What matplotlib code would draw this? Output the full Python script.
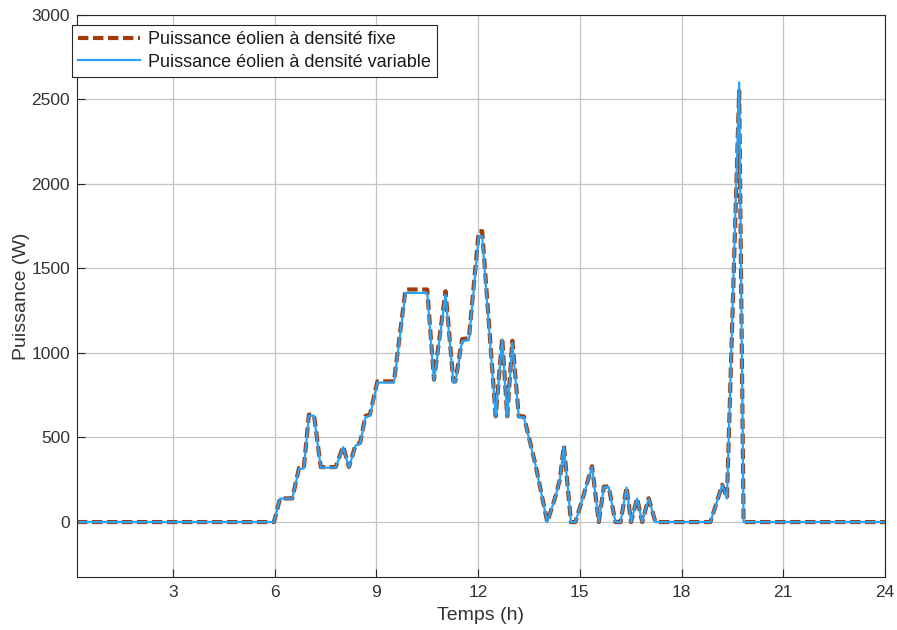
import matplotlib
matplotlib.use("Agg")
import matplotlib.pyplot as plt

# time (h) and power (W)
temps = [0.17, 5.98, 6.16, 6.52, 6.72, 6.86, 7.01, 7.16, 7.36, 7.80, 8.02, 8.19,
         8.39, 8.52, 8.68, 8.81, 9.03, 9.52, 9.86, 10.50, 10.70, 11.04, 11.27,
         11.33, 11.53, 11.73, 12.02, 12.12, 12.52, 12.71, 12.86, 13.01, 13.20,
         13.35, 13.70, 14.04, 14.28, 14.41, 14.53, 14.74, 14.87, 15.07, 15.36,
         15.56, 15.71, 15.85, 16.05, 16.20, 16.38, 16.51, 16.69, 16.84, 17.03,
         17.23, 18.85, 19.20, 19.34, 19.70, 19.83, 24.0]

p_variable = [0, 0, 139, 139, 316, 316, 629, 629, 322, 322, 443, 322,
              453, 463, 620, 629, 825, 825, 1355, 1355, 835, 1345, 825,
              825, 1070, 1075, 1690, 1690, 620, 1080, 620, 1061, 620,
              620, 330, 0, 149, 247, 447, 0, 0, 129, 325,
              0, 208, 208, 0, 0, 204, 0, 139, 0, 139,
              0, 0, 218, 139, 2600, 0, 0]

p_fixe = [0, 0, 140, 140, 320, 320, 635, 635, 325, 325, 448, 325,
          458, 468, 628, 635, 832, 832, 1375, 1375, 842, 1365, 832,
          832, 1082, 1087, 1720, 1720, 625, 1090, 625, 1072, 625,
          625, 333, 0, 150, 250, 452, 0, 0, 130, 330,
          0, 210, 210, 0, 0, 207, 0, 141, 0, 141,
          0, 0, 220, 141, 2550, 0, 0]

xticks = [3, 6, 9, 12, 15, 18, 21, 24]
yticks = [0, 500, 1000, 1500, 2000, 2500, 3000]

plt.rcParams['font.family'] = ['Liberation Sans', 'DejaVu Sans']
txt = '#333333'

fig = plt.figure(figsize=(8.97, 6.3), dpi=100)
ax = fig.add_axes([0.0858, 0.0841, 0.9008, 0.8926])

ax.plot(temps, p_fixe, color='#A23C0C', lw=3.0, dashes=(2.5, 1.1),
        label='Puissance éolien à densité fixe')
ax.plot(temps, p_variable, color='#26A2F7', lw=1.6,
        label='Puissance éolien à densité variable')

ax.set_xlim(0.17, 24)
ax.set_ylim(-325, 3000)
ax.set_xticks(xticks)
ax.set_yticks(yticks)
ax.grid(True, color='#c4c4c4', lw=0.9)
ax.set_axisbelow(True)
ax.tick_params(direction='in', length=5.5, width=0.8, labelsize=12.5,
               colors='#262626', labelcolor=txt)
ax.tick_params(axis='x', pad=6)
ax.tick_params(axis='y', pad=5)
for s in ax.spines.values():
    s.set_color('#262626')
    s.set_linewidth(0.8)

ax.set_xlabel('Temps (h)', fontsize=14, color=txt, labelpad=5)
ax.set_ylabel('Puissance (W)', fontsize=14, color=txt, labelpad=1)

leg = ax.legend(loc='upper left', bbox_to_anchor=(72 / 897, 1 - 25 / 630),
                bbox_transform=fig.transFigure, borderaxespad=0,
                fontsize=13, fancybox=False, framealpha=1,
                edgecolor='#262626', borderpad=0.35, labelspacing=0.3,
                handlelength=3.4, handletextpad=0.45)
leg.get_frame().set_linewidth(0.8)
for t in leg.get_texts():
    t.set_color('#1a1a1a')

fig.savefig('out.png', dpi=100)
